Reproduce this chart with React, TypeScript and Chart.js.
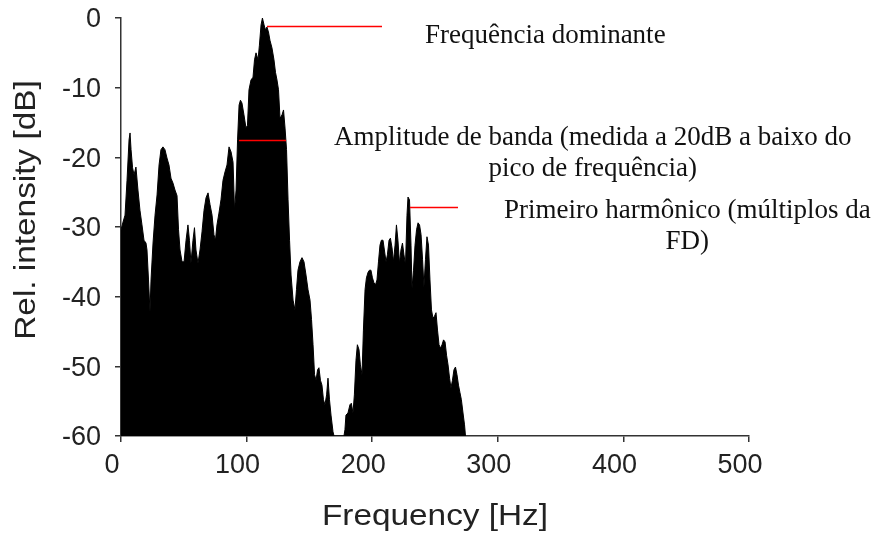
import React, { useEffect, useRef } from "react";
import { Chart, registerables } from "chart.js";

Chart.register(...registerables);

// ---- Data ----
const freqHz: number[] = [
  0, 1.6, 3.2, 4.8, 6.4, 7.2, 8.0, 9.2, 10.4, 11.9,
  13.5, 15.1, 16.7, 18.3, 19.9, 20.7, 21.9, 23.1, 23.9, 25.5,
  27.1, 28.7, 30.3, 31.8, 33.4, 35.0, 36.6, 38.2, 39.8, 41.4,
  43.0, 44.6, 45.8, 47.0, 48.6, 50.2, 51.8, 53.3, 54.5, 55.7,
  57.3, 58.5, 59.7, 61.3, 62.9, 64.5, 66.1, 67.7, 69.3, 70.9,
  72.5, 74.0, 75.2, 76.4, 78.0, 79.6, 81.2, 82.8, 84.4, 86.0,
  87.6, 89.2, 90.4, 91.6, 92.8, 94.0, 95.1, 96.3, 97.9, 99.5,
  100.7, 101.9, 103.5, 105.1, 106.3, 107.5, 109.1, 110.2, 111.5, 112.6,
  113.9, 115.0, 116.2, 117.4, 118.6, 120.2, 121.8, 123.0, 124.2, 125.4,
  126.6, 128.2, 129.4, 130.6, 131.8, 133.0, 134.2, 135.4, 137.0, 138.5,
  139.7, 140.9, 142.5, 144.1, 145.7, 147.3, 148.9, 150.5, 151.7, 152.9,
  154.1, 155.3, 156.5, 157.6, 158.8, 160.0, 161.2, 162.4, 163.7, 164.8,
  166.0, 167.2, 168.8, 169.6, 177.5, 178.3, 179.1, 180.7, 182.3, 183.4,
  184.7, 185.8, 187.1, 188.2, 189.5, 190.6, 191.9, 193.0, 194.3, 195.4,
  196.7, 197.8, 199.0, 200.2, 201.4, 202.6, 203.8, 205.0, 206.2, 207.3,
  208.6, 209.7, 211.0, 212.1, 213.4, 214.5, 215.8, 216.9, 218.2, 219.3,
  220.5, 221.7, 222.9, 224.1, 225.3, 226.5, 227.7, 228.5, 229.7, 230.9,
  231.7, 232.9, 234.1, 235.3, 236.5, 237.7, 238.9, 240.1, 241.2, 242.4,
  243.6, 244.8, 246.0, 247.2, 248.4, 249.6, 250.8, 252.0, 253.2, 254.4,
  255.6, 256.8, 258.0, 259.2, 260.4, 261.6, 262.7, 263.9, 265.1, 266.3,
  267.5, 268.7, 269.9, 271.0, 272.3, 273.5, 274.3,
];

const levelDb: number[] = [
  -30.4, -29.3, -28.3, -23.3, -17.5, -16.5, -18.9, -21.5, -22.5, -21.4,
  -24.7, -27.6, -29.7, -31.9, -32.3, -33.3, -37.6, -42.2, -37.6, -32.3,
  -28.3, -25.4, -21.1, -18.9, -18.5, -18.9, -20.1, -21.1, -23.0, -23.7,
  -24.7, -25.5, -30.4, -33.3, -35.0, -35.0, -31.9, -29.7, -31.9, -35.2,
  -31.9, -30.1, -33.3, -35.2, -33.3, -30.7, -27.6, -25.8, -25.1, -26.8,
  -28.3, -31.1, -31.9, -29.7, -28.0, -26.1, -23.3, -22.1, -21.1, -18.5,
  -19.2, -20.7, -27.6, -24.7, -17.5, -12.5, -11.8, -12.2, -13.9, -15.8,
  -15.4, -10.3, -8.9, -8.5, -6.0, -5.0, -6.0, -3.9, -1.0, 0,
  -1.0, -1.7, -1.3, -2.0, -3.2, -4.3, -6.0, -7.8, -8.9, -10.3,
  -14.4, -13.9, -13.2, -15.8, -18.9, -26.1, -31.9, -36.9, -40.5, -41.9,
  -39.0, -36.2, -35.0, -34.4, -35.0, -36.9, -39.0, -40.5, -43.3, -46.9,
  -51.2, -52.0, -50.5, -50.2, -52.0, -52.7, -54.8, -55.5, -54.1, -51.7,
  -54.8, -57.0, -59.4, -60, -60, -59.1, -57.0, -56.7, -55.5, -55.3,
  -56.7, -54.1, -49.1, -46.9, -47.6, -49.8, -51.2, -44.8, -39.0, -37.3,
  -36.5, -36.2, -36.2, -37.3, -38.0, -38.3, -37.6, -35.0, -32.6, -31.9,
  -31.9, -33.3, -35.0, -34.0, -31.9, -31.6, -33.0, -35.0, -32.6, -29.7,
  -31.9, -35.2, -33.3, -32.3, -34.0, -35.5, -28.3, -25.7, -26.1, -32.6,
  -38.8, -36.2, -32.6, -30.4, -29.4, -29.7, -31.1, -34.7, -38.6, -34.7,
  -31.4, -32.6, -37.6, -41.9, -43.1, -42.8, -42.3, -44.8, -46.9, -47.4,
  -46.9, -46.2, -46.5, -48.4, -49.8, -51.7, -53.1, -52.0, -50.5, -50.1,
  -51.2, -52.7, -53.8, -54.8, -56.7, -58.4, -60,
];

const xTicks: number[] = [0, 100, 200, 300, 400, 500];
const yTicks: number[] = [0, -10, -20, -30, -40, -50, -60];

const xTitle = "Frequency [Hz]";
const yTitle = "Rel. intensity [dB]";

// Red marker lines (data units)
const markerStartHz: number[] = [116.2, 93.9, 230.1];
const markerEndHz: number[] = [207.8, 131.4, 268.3];
const markerDb: number[] = [-1.2, -17.5, -27.1];

// Annotation texts (anchored in data units: centre frequency, first baseline level)
const noteLines: string[][] = [
  ["Frequência dominante"],
  ["Amplitude de banda (medida a 20dB a baixo do", "pico de frequência)"],
  ["Primeiro harmônico (múltiplos da", "FD)"],
];
const noteCenterHz: number[] = [337.8, 375.6, 450.9];
const noteBaselineDb: number[] = [-3.6, -18.2, -28.7];

const SANS = '"Liberation Sans", Arial, Helvetica, sans-serif';
const SERIF = '"Liberation Serif", "Times New Roman", Times, serif';

const overlayPlugin = {
  id: "overlay",
  afterDraw(chart: any) {
    const { ctx, scales, chartArea } = chart;
    const x = scales.x;
    const y = scales.y;
    ctx.save();

    // red marker lines
    ctx.strokeStyle = "#ff0000";
    ctx.lineWidth = 1.5;
    for (let i = 0; i < markerStartHz.length; i++) {
      const py = Math.round(y.getPixelForValue(markerDb[i])) + 0.5;
      ctx.beginPath();
      ctx.moveTo(x.getPixelForValue(markerStartHz[i]), py);
      ctx.lineTo(x.getPixelForValue(markerEndHz[i]), py);
      ctx.stroke();
    }

    // annotation texts
    ctx.fillStyle = "#111";
    ctx.font = `27px ${SERIF}`;
    ctx.textAlign = "center";
    ctx.textBaseline = "alphabetic";
    for (let i = 0; i < noteLines.length; i++) {
      const cx = x.getPixelForValue(noteCenterHz[i]);
      const by = y.getPixelForValue(noteBaselineDb[i]);
      noteLines[i].forEach((line, j) => {
        ctx.fillText(line, cx, by + j * 31);
      });
    }

    // axis titles
    ctx.fillStyle = "#222";
    ctx.font = `29px ${SANS}`;
    ctx.textAlign = "center";
    ctx.textBaseline = "alphabetic";

    ctx.save();
    ctx.translate((chartArea.left + chartArea.right) / 2, 525);
    ctx.scale(1.15, 1);
    ctx.fillText(xTitle, 0, 0);
    ctx.restore();

    ctx.save();
    ctx.translate(35, (chartArea.top + chartArea.bottom) / 2 - 17);
    ctx.rotate(-Math.PI / 2);
    ctx.scale(1.15, 1);
    ctx.fillText(yTitle, 0, 0);
    ctx.restore();

    ctx.restore();
  },
};

export default function App() {
  const canvasRef = useRef<HTMLCanvasElement | null>(null);

  useEffect(() => {
    document.body.style.margin = "0";
    const canvas = canvasRef.current;
    if (!canvas) return;

    const points = freqHz.map((f, i) => ({ x: f, y: levelDb[i] }));

    const chart = new Chart(canvas, {
      type: "line",
      data: {
        datasets: [
          {
            data: points,
            borderColor: "#000",
            backgroundColor: "#000",
            borderWidth: 1,
            pointRadius: 0,
            tension: 0,
            fill: "start",
          },
        ],
      },
      options: {
        animation: false,
        responsive: false,
        maintainAspectRatio: false,
        devicePixelRatio: 1,
        layout: { padding: { left: 0, top: 18, right: 124, bottom: 0 } },
        plugins: {
          legend: { display: false },
          tooltip: { enabled: false },
          title: { display: false },
        },
        scales: {
          x: {
            type: "linear",
            min: 0,
            max: 500,
            afterFit: (scale: any) => {
              scale.height = 99;
              scale.paddingLeft = 0;
              scale.paddingRight = 0;
            },
            afterBuildTicks: (scale: any) => {
              scale.ticks = xTicks.map((v) => ({ value: v }));
            },
            grid: {
              drawOnChartArea: false,
              drawTicks: true,
              tickLength: 6,
              color: "#333",
              lineWidth: 1.5,
            },
            border: { display: true, color: "#333", width: 1.5 },
            ticks: {
              color: "#222",
              font: { family: SANS, size: 27 },
              padding: 7,
              labelOffset: -9,
              maxRotation: 0,
              autoSkip: false,
            },
            title: { display: false },
          },
          y: {
            type: "linear",
            min: -60,
            max: 0,
            afterFit: (scale: any) => {
              scale.width = 121;
              scale.paddingTop = 0;
              scale.paddingBottom = 0;
            },
            afterBuildTicks: (scale: any) => {
              scale.ticks = yTicks.map((v) => ({ value: v }));
            },
            grid: {
              drawOnChartArea: false,
              drawTicks: true,
              tickLength: 6,
              color: "#333",
              lineWidth: 1.5,
            },
            border: { display: true, color: "#333", width: 1.5 },
            ticks: {
              color: "#222",
              font: { family: SANS, size: 27 },
              padding: 14,
              labelOffset: 2,
              autoSkip: false,
            },
            title: { display: false },
          },
        },
      },
      plugins: [overlayPlugin],
    });

    return () => {
      chart.destroy();
    };
  }, []);

  return (
    <div style={{ position: "absolute", left: 0, top: 0, width: 873, height: 535, background: "#fff" }}>
      <canvas ref={canvasRef} width={873} height={535} style={{ display: "block", width: 873, height: 535 }} />
    </div>
  );
}
